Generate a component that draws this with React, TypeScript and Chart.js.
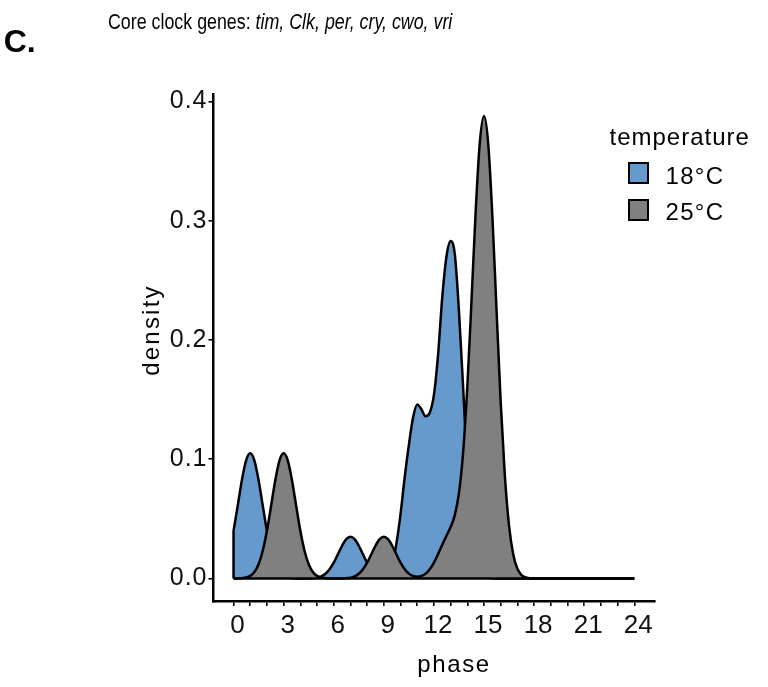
import React, { useEffect, useRef } from "react";
import { Chart, registerables } from "chart.js";

Chart.register(...registerables);

// ---- data ----
const PHASE = [
  0, 0.25, 0.5, 0.75, 1, 1.25, 1.5, 1.75, 2, 2.25, 2.5, 2.75, 3, 3.25, 3.5, 3.75,
  4, 4.25, 4.5, 4.75, 5, 5.25, 5.5, 5.75, 6, 6.25, 6.5, 6.75, 7, 7.25, 7.5, 7.75,
  8, 8.25, 8.5, 8.75, 9, 9.25, 9.5, 9.75, 10, 10.25, 10.5, 10.75, 11, 11.25, 11.5, 11.75,
  12, 12.25, 12.5, 12.75, 13, 13.25, 13.5, 13.75, 14, 14.25, 14.5, 14.75, 15, 15.25, 15.5, 15.75,
  16, 16.25, 16.5, 16.75, 17, 17.25, 17.5, 18, 19, 20, 21, 22, 23, 24,
];

const DENSITY_18C = [
  0.04, 0.061, 0.0825, 0.0989, 0.105, 0.0989, 0.0825, 0.061, 0.04, 0.0233, 0.012, 0.0055, 0.0022, 0.0008, 0.0003, 0.0001,
  0, 0, 0, 0.0003, 0.0007, 0.0018, 0.004, 0.0078, 0.0133, 0.0203, 0.0275, 0.033, 0.035, 0.033, 0.0275, 0.0203,
  0.0133, 0.0078, 0.0045, 0.003, 0.003, 0.005, 0.012, 0.029, 0.054, 0.085, 0.112, 0.135, 0.146, 0.142, 0.136, 0.139,
  0.154, 0.188, 0.236, 0.27, 0.283, 0.272, 0.224, 0.16, 0.092, 0.042, 0.017, 0.006, 0.002, 0.0006, 0.0002, 0,
  0, 0, 0, 0, 0, 0, 0, 0, 0, 0, 0, 0, 0, 0,
];

const DENSITY_25C = [
  0, 0, 0.0003, 0.0008, 0.0022, 0.0055, 0.012, 0.0233, 0.04, 0.061, 0.0825, 0.0989, 0.105, 0.0989, 0.0825, 0.061,
  0.04, 0.0233, 0.012, 0.0055, 0.0022, 0.0008, 0.0003, 0.0001, 0, 0, 0.0001, 0.0003, 0.0007, 0.0018, 0.004, 0.0078,
  0.0133, 0.0203, 0.0275, 0.033, 0.035, 0.033, 0.0275, 0.0203, 0.0133, 0.0078, 0.0041, 0.0021, 0.0015, 0.0021, 0.0041, 0.0078,
  0.0134, 0.0206, 0.0284, 0.0359, 0.0432, 0.0532, 0.0717, 0.106, 0.161, 0.233, 0.308, 0.366, 0.388, 0.365, 0.304, 0.225,
  0.1475, 0.0857, 0.0442, 0.0202, 0.0082, 0.0029, 0.0009, 0, 0, 0, 0, 0, 0, 0,
];

const SERIES = ["18°C", "25°C"];
const COLORS = ["#6699CC", "#808080"];
const X_TICKS = [0, 1, 2, 3, 4, 5, 6, 7, 8, 9, 10, 11, 12, 13, 14, 15, 16, 17, 18, 19, 20, 21, 22, 23, 24];
const X_LABELS = [0, 3, 6, 9, 12, 15, 18, 21, 24];
const Y_TICKS = [0, 0.1, 0.2, 0.3, 0.4];

const FONT = "'Liberation Sans', Arial, Helvetica, sans-serif";
const LINE_W = 2.5;

export default function App() {
  const canvasRef = useRef<HTMLCanvasElement | null>(null);

  useEffect(() => {
    const canvas = canvasRef.current;
    if (!canvas) return;
    const pts = (ys: number[]) => PHASE.map((x, i) => ({ x, y: ys[i] }));
    const first = PHASE[0];
    const last = PHASE[PHASE.length - 1];

    const chart = new Chart(canvas, {
      type: "line",
      data: {
        datasets: [
          {
            label: SERIES[0],
            data: pts(DENSITY_18C),
            borderColor: "#000",
            backgroundColor: COLORS[0],
            borderWidth: LINE_W,
            fill: "origin",
            pointRadius: 0,
            cubicInterpolationMode: "monotone",
            order: 3,
          },
          {
            label: SERIES[1],
            data: pts(DENSITY_25C),
            borderColor: "#000",
            backgroundColor: COLORS[1],
            borderWidth: LINE_W,
            fill: "origin",
            pointRadius: 0,
            cubicInterpolationMode: "monotone",
            order: 2,
          },
          {
            label: "edge",
            data: [
              { x: first, y: 0 },
              { x: first, y: DENSITY_18C[0] },
            ],
            borderColor: "#000",
            borderWidth: LINE_W,
            fill: false,
            pointRadius: 0,
            tension: 0,
            order: 1,
          },
          {
            label: "baseline",
            data: [
              { x: first, y: 0 },
              { x: last, y: 0 },
            ],
            borderColor: "#000",
            borderWidth: LINE_W,
            fill: false,
            pointRadius: 0,
            tension: 0,
            order: 0,
          },
        ],
      },
      options: {
        responsive: false,
        devicePixelRatio: 1,
        animation: false,
        events: [],
        layout: { padding: { left: 0, top: 94, right: 113.65, bottom: 0 } },
        plugins: {
          legend: { display: false },
          title: { display: false },
          tooltip: { enabled: false },
        },
        scales: {
          x: {
            type: "linear",
            min: -1.2,
            max: 25.2,
            afterBuildTicks: (s: any) => {
              s.ticks = X_TICKS.map((v) => ({ value: v }));
            },
            afterFit: (s: any) => {
              s.height = 85.4;
            },
            ticks: {
              autoSkip: false,
              maxRotation: 0,
              minRotation: 0,
              padding: 4,
              labelOffset: 4,
              color: "#111",
              font: { family: FONT, size: 26 },
              callback: (v: any) => (X_LABELS.includes(Number(v)) ? String(v) : ""),
            },
            grid: {
              display: true,
              drawOnChartArea: false,
              drawTicks: true,
              tickLength: 4.5,
              color: "#000",
              lineWidth: 1.6,
            },
            border: { display: true, color: "#000", width: 2.5 },
          },
          y: {
            type: "linear",
            min: -0.01935,
            max: 0.40635,
            afterBuildTicks: (s: any) => {
              s.ticks = Y_TICKS.map((v) => ({ value: v }));
            },
            afterFit: (s: any) => {
              s.width = 213.5;
              if (!s.__spaced) {
                const orig = s.drawLabels.bind(s);
                s.drawLabels = (area: any) => {
                  const ctx = s.ctx;
                  ctx.save();
                  ctx.letterSpacing = "1px";
                  orig(area);
                  ctx.restore();
                };
                s.__spaced = true;
              }
            },
            ticks: {
              padding: 1,
              color: "#111",
              font: { family: FONT, size: 25 },
              callback: (v: any) => Number(v).toFixed(1),
            },
            grid: {
              display: true,
              drawOnChartArea: false,
              drawTicks: true,
              tickLength: 5,
              color: "#000",
              lineWidth: 1.6,
            },
            border: { display: true, color: "#000", width: 2.5 },
          },
        },
      },
    } as any);
    return () => chart.destroy();
  }, []);

  const abs = (s: React.CSSProperties): React.CSSProperties => ({
    position: "absolute",
    whiteSpace: "nowrap",
    fontFamily: FONT,
    color: "#000",
    margin: 0,
    ...s,
  });

  return (
    <div style={{ position: "fixed", left: 0, top: 0, width: 768, height: 687, background: "#fff", overflow: "hidden" }}>
      <canvas ref={canvasRef} width={768} height={687} style={{ position: "absolute", left: 0, top: 0, width: 768, height: 687 }} />
      <div style={abs({ left: 3.7, top: 24.9, fontSize: 32, lineHeight: "32px", fontWeight: 700 })}>C.</div>
      <div
        style={abs({
          left: 108,
          top: 11.4,
          fontSize: 22,
          lineHeight: "22px",
          transform: "scaleX(0.81)",
          transformOrigin: "0 0",
        })}
      >
        Core clock genes: <i>tim, Clk, per, cry, cwo, vri</i>
      </div>
      <div
        style={abs({
          left: 51,
          top: 318,
          width: 200,
          height: 24,
          fontSize: 24,
          lineHeight: "24px",
          letterSpacing: "2.2px",
          textAlign: "center",
          transform: "rotate(-90deg)",
        })}
      >
        density
      </div>
      <div
        style={abs({
          left: 354,
          top: 651.7,
          width: 200,
          fontSize: 24,
          lineHeight: "24px",
          letterSpacing: "1.6px",
          textAlign: "center",
        })}
      >
        phase
      </div>
      <div style={abs({ left: 609.5, top: 125.2, fontSize: 24, lineHeight: "24px", letterSpacing: "1px" })}>temperature</div>
      {SERIES.map((name, i) => (
        <React.Fragment key={name}>
          <div
            style={{
              position: "absolute",
              left: 627.7,
              top: 161.7 + i * 37.4,
              width: 21,
              height: 22,
              boxSizing: "border-box",
              border: "2px solid #000",
              background: COLORS[i],
            }}
          />
          <div style={abs({ left: 665.5, top: 163.7 + i * 36.5, fontSize: 24, lineHeight: "24px", letterSpacing: "1.3px" })}>
            {name}
          </div>
        </React.Fragment>
      ))}
    </div>
  );
}
